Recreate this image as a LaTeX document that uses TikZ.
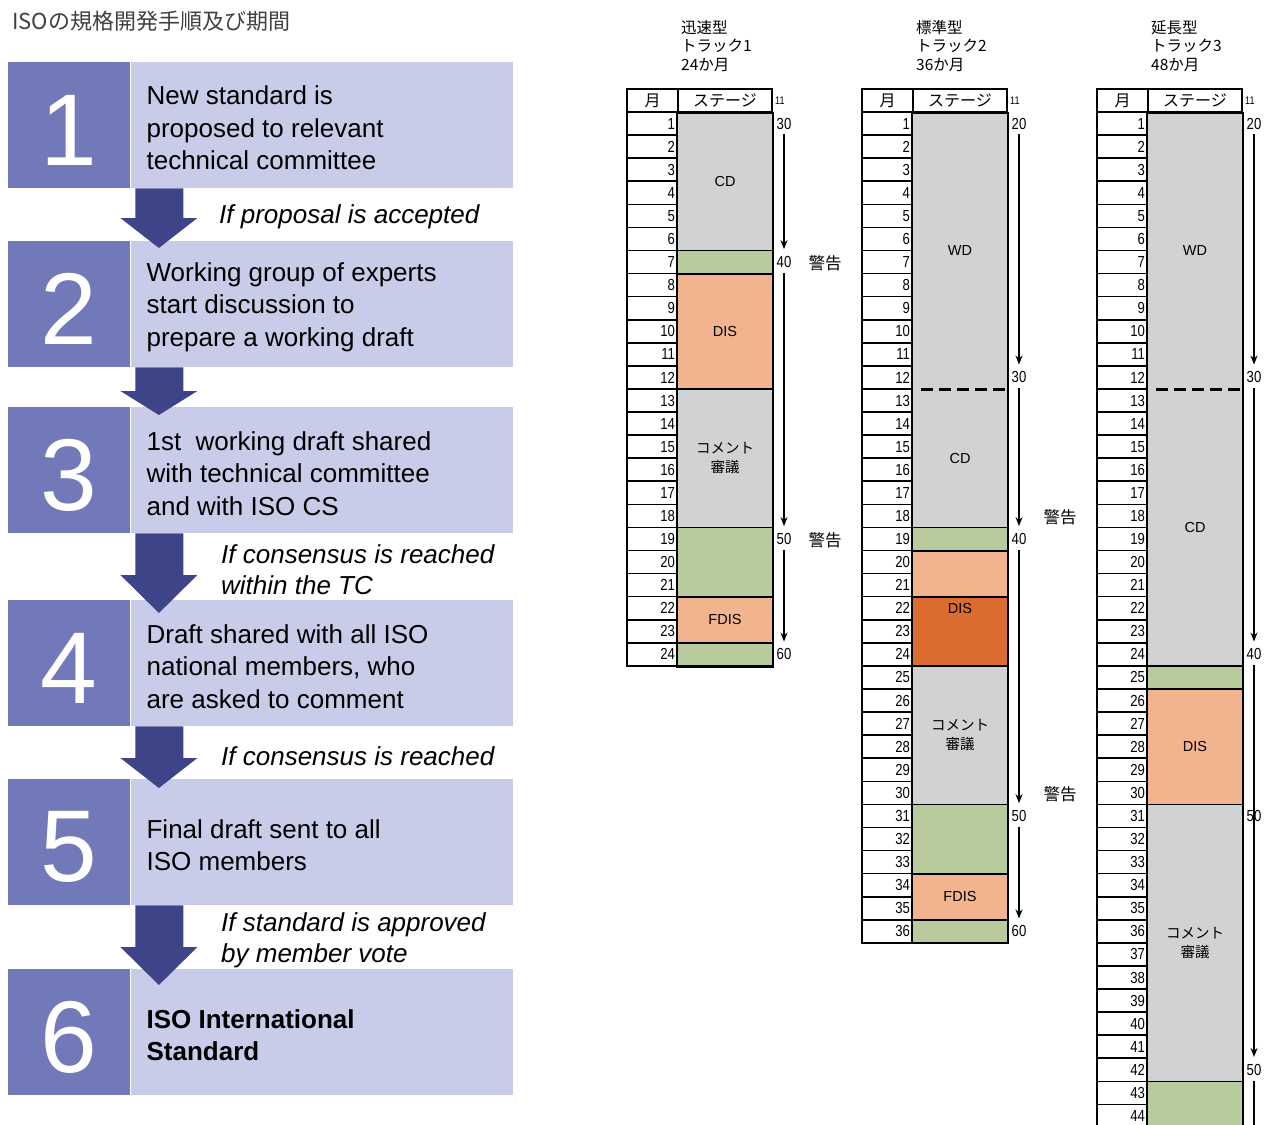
\documentclass[tikz,border=0pt]{standalone}
\usepackage{fontspec}
\setmainfont{Liberation Sans}
\newfontfamily\jp{Noto Sans CJK JP}
\newfontfamily\narrow[FakeStretch=0.82]{Liberation Sans}
\usepackage{tikz}
\usetikzlibrary{arrows.meta,positioning,calc}
\definecolor{numc}{HTML}{7279B9}
\definecolor{bodyc}{HTML}{C9CCE8}
\definecolor{flowc}{HTML}{3E4488}
\definecolor{titlec}{HTML}{404040}
\definecolor{stgray}{HTML}{D1D2D4}
\definecolor{stgreen}{HTML}{B7CB9C}
\definecolor{stsalmon}{HTML}{F2B48F}
\definecolor{storange}{HTML}{D96C2E}

\begin{document}
\begin{tikzpicture}[x=1pt,y=-1pt,
  numbox/.style={fill=numc,minimum width=122pt,minimum height=126pt,inner sep=0pt},
  numtext/.style={text=white,inner sep=0pt,font=\fontsize{102}{102}\selectfont},
  bodybox/.style={fill=bodyc,minimum width=382pt,minimum height=126pt,inner sep=0pt},
  steptext/.style={anchor=west,inner sep=0pt,align=left,font=\fontsize{26}{32.5}\selectfont},
  cond/.style={anchor=west,inner sep=0pt,align=left,font=\itshape\fontsize{26}{31}\selectfont},
  trackhead/.style={anchor=north west,inner sep=0pt,align=left,font=\jp\fontsize{15.5}{18.5}\selectfont},
  headcell/.style={draw,line width=1.6pt,minimum height=23pt,inner sep=0pt,font=\jp\fontsize{16}{16}\selectfont},
  monthcell/.style={draw,line width=1.6pt,minimum height=23.08pt,text width=45pt,inner xsep=3pt,inner ysep=0pt,align=right,font=\narrow\fontsize{16}{16}\selectfont},
  stagecell/.style={minimum width=94pt,inner sep=0pt},
  stagelab/.style={inner sep=0pt,align=center,font=\fontsize{14.5}{18.5}\selectfont},
  marklab/.style={inner sep=2pt,font=\narrow\fontsize{16}{16}\selectfont},
  warnlab/.style={inner sep=0pt,font=\jp\fontsize{16.5}{16.5}\selectfont},
  tabline/.style={line width=1.6pt},
  segdash/.style={line width=3pt,dash pattern=on 12pt off 6pt,shorten <=8pt},
  flowline/.style={line width=1.3pt,-{Stealth[length=9pt,width=7pt]},shorten <=3pt,shorten >=5pt}]
\useasboundingbox (0,0) rectangle (1268,1124);

\node[anchor=west,inner sep=0pt,text=titlec,font=\jp\fontsize{22}{22}\selectfont] (title) at (12,21) {ISOの規格開発手順及び期間};

% steps
\foreach \i/\y/\txt in {1/62/{New standard is\\proposed to relevant\\technical committee},
    2/241/{Working group of experts\\start discussion to\\prepare a working draft},
    3/407/{1st~ working draft shared\\with technical committee\\and with ISO CS},
    4/600/{Draft shared with all ISO\\national members, who\\are asked to comment},
    5/779/{Final draft sent to all\\ISO members},
    6/969/{\textbf{ISO International}\\\textbf{Standard}}} {
  \node[numbox,anchor=north west] (n\i) at (8,\y) {};
  \node[bodybox,anchor=west] (b\i) at (n\i.east) {};
  \node[numtext] (k\i) at ([yshift=-5pt]n\i.center) {\i};
  \node[steptext] (s\i) at ([xshift=16pt,yshift=-3pt]b\i.west) {\txt};
}
\foreach \i/\o/\h in {1/7/30,2/8/24,3/13/38,4/9/30,5/16/38} {
  \pgfmathtruncatemacro\j{\i+1}
  \pgfmathsetmacro\d{\h-\o}
  \fill[flowc] ([xshift=5pt]n\i.south east) -- ([xshift=53pt]n\i.south east)
    -- ([xshift=53pt,yshift=\d pt]n\j.north east) -- ([xshift=67pt,yshift=\d pt]n\j.north east)
    -- ([xshift=28.5pt,yshift=-\o pt]n\j.north east)
    -- ([xshift=-10pt,yshift=\d pt]n\j.north east) -- ([xshift=5pt,yshift=\d pt]n\j.north east) -- cycle;
}
\node[cond] (c1) at (219,217) {If proposal is accepted};
\node[cond] (c3) at (221,570) {If consensus is reached\\within the TC};
\node[cond] (c4) at (221,756) {If consensus is reached};
\node[cond] (c5) at (221,940) {If standard is approved\\by member vote};

% tracks
\foreach \tk/\tx/\rows/\ttl/\segs/\marks/\arrs in {
    1/627/24/{迅速型\\トラック1\\24か月}/{1/6/stgray/CD/0/0,7/7/stgreen/{}/0/0,8/12/stsalmon/DIS/0/0,13/18/stgray/{{\jp コメント}\\{\jp 審議}}/0/0,19/21/stgreen/{}/0/0,22/23/stsalmon/FDIS/0/0,24/24/stgreen/{}/0/0}/{1/30,7/40,19/50,24/60}/{1/7,7/19,19/24},
    2/862/36/{標準型\\トラック2\\36か月}/{1/12/stgray/WD/1/0,13/18/stgray/CD/0/0,19/19/stgreen/{}/0/0,20/21/stsalmon/{}/0/0,22/24/storange/DIS/0/1,25/30/stgray/{{\jp コメント}\\{\jp 審議}}/0/0,31/33/stgreen/{}/0/0,34/35/stsalmon/FDIS/0/0,36/36/stgreen/{}/0/0}/{1/20,12/30,19/40,31/50,36/60}/{1/12,12/19,19/31,31/36},
    3/1097/44/{延長型\\トラック3\\48か月}/{1/12/stgray/WD/1/0,13/24/stgray/CD/0/0,25/25/stgreen/{}/0/0,26/30/stsalmon/DIS/0/0,31/42/stgray/{{\jp コメント}\\{\jp 審議}}/0/0,43/44/stgreen/{}/0/0}/{1/20,12/30,24/40,31/50,42/50}/{1/12,12/24,24/42}} {
  \node[trackhead] (t\tk t) at (\tx+54,20) {\ttl};
  \node[headcell,minimum width=51pt] (t\tk h1) at (\tx+25.5,100.5) {月};
  \node[headcell,minimum width=94pt] (t\tk h2) at (\tx+98,100.5) {ステージ};
  \node[marklab,anchor=west,font=\narrow\fontsize{11}{11}\selectfont] (t\tk c0) at (\tx+146,100.5) {11};
  \foreach \r in {1,...,\rows}
    \node[monthcell] (t\tk m\r) at (\tx+25.5,{112+(\r-0.5)*23.08}) {\r};
  \foreach \sa/\sb/\sc/\sl/\sd/\so in \segs {
    \node[stagecell,fill=\sc,minimum height={(\sb-\sa+1)*23.08pt}] (t\tk s\sa) at (\tx+98,{112+(\sa+\sb-1)/2*23.08}) {};
    \node[stagelab] (t\tk l\sa) at (\tx+98,{112+((\sa+\sb-1)/2-\so)*23.08}) {\sl};
  }
  \foreach \sa/\sb/\sc/\sl/\sd/\so in \segs {
    \ifnum\sd=1
      \draw[segdash] (t\tk s\sa.south west) -- (t\tk s\sa.south east);
    \else
      \draw[tabline] (t\tk s\sa.south west) -- (t\tk s\sa.south east);
    \fi
  }
  \draw[tabline] (t\tk h2.south west) rectangle (t\tk h2.south east |- t\tk m\rows.south);
  \foreach \r/\v in \marks
    \node[marklab] (t\tk c\r) at (\tx+157,{112+(\r-0.5)*23.08}) {\v};
  \foreach \p/\q in \arrs
    \draw[flowline] (t\tk c\p.south) -- (t\tk c\q.north);
}
\coordinate (t3end) at (1254,1140);
\draw[line width=1.3pt,shorten <=3pt] (t3c42.south) -- (t3c42.south |- t3end);

\node[warnlab] (w1a) at (825,263) {警告};
\node[warnlab] (w1b) at (825,540) {警告};
\node[warnlab] (w2a) at (1060,517) {警告};
\node[warnlab] (w2b) at (1060,794) {警告};
\end{tikzpicture}
\end{document}
